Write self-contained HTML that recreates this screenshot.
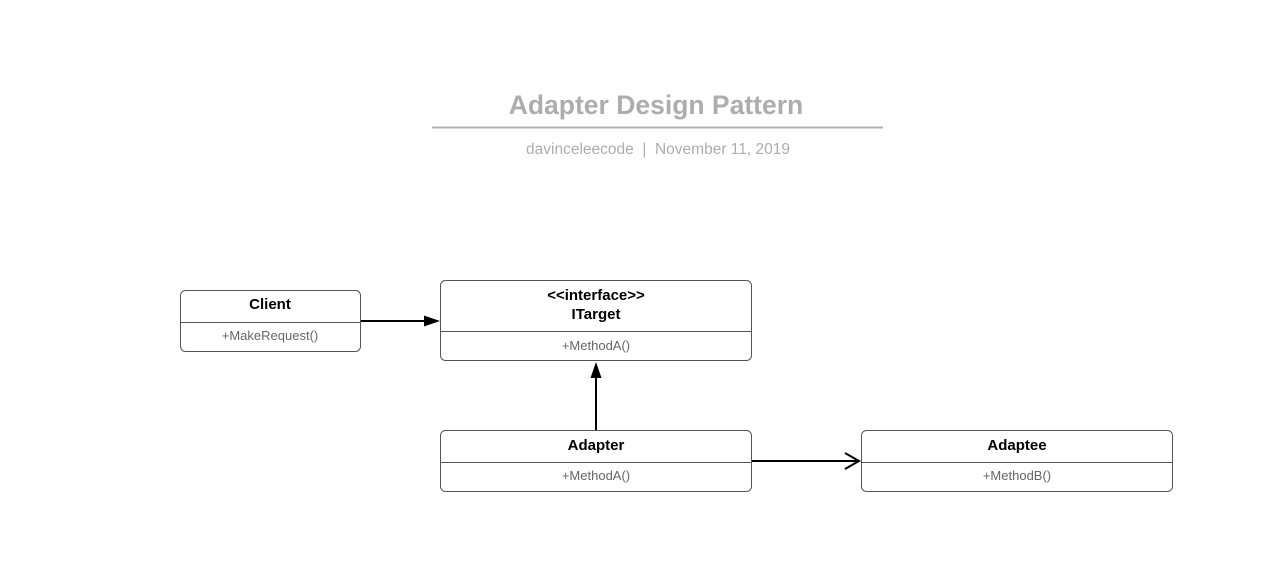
<!DOCTYPE html>
<html><head><meta charset="utf-8"><style>
html,body{margin:0;padding:0;background:#fff;width:1287px;height:585px;overflow:hidden}
svg{display:block;font-family:"Liberation Sans",Arial,sans-serif}
</style></head><body>
<svg width="1287" height="585" viewBox="0 0 1287 585" xmlns="http://www.w3.org/2000/svg">
<text x="656" y="114" text-anchor="middle" font-size="26.5" font-weight="bold" fill="#adadad">Adapter Design Pattern</text>
<line x1="432" y1="127.5" x2="883" y2="127.5" stroke="#b0b0b0" stroke-width="2"/>
<text x="658" y="154" text-anchor="middle" font-size="15.5" fill="#adadad" style="white-space:pre" xml:space="preserve">davinceleecode  |  November 11, 2019</text>

<g fill="#fff" stroke="#555" stroke-width="1">
<rect x="180.5" y="290.5" width="180" height="61" rx="5"/>
<rect x="440.5" y="280.5" width="311" height="80" rx="5"/>
<rect x="440.5" y="430.5" width="311" height="61" rx="5"/>
<rect x="861.5" y="430.5" width="311" height="61" rx="5"/>
</g>
<g stroke="#555" stroke-width="1">
<line x1="180" y1="322.5" x2="361" y2="322.5"/>
<line x1="440" y1="331.5" x2="752" y2="331.5"/>
<line x1="440" y1="462.5" x2="752" y2="462.5"/>
<line x1="861" y1="462.5" x2="1173" y2="462.5"/>
</g>
<g font-size="15" font-weight="bold" fill="#000" text-anchor="middle">
<text x="270" y="309">Client</text>
<text x="596" y="300">&lt;&lt;interface&gt;&gt;</text>
<text x="596" y="319">ITarget</text>
<text x="596" y="450">Adapter</text>
<text x="1017" y="450">Adaptee</text>
</g>
<g font-size="13" fill="#666" text-anchor="middle">
<text x="270" y="340">+MakeRequest()</text>
<text x="596" y="350">+MethodA()</text>
<text x="596" y="480">+MethodA()</text>
<text x="1017" y="480">+MethodB()</text>
</g>
<g stroke="#000" stroke-width="2" fill="none">
<line x1="361" y1="321" x2="426" y2="321"/>
<line x1="596" y1="430" x2="596" y2="376"/>
<line x1="752" y1="461" x2="858" y2="461"/>
<polyline points="845,453 859,461 845,469"/>
</g>
<polygon points="440,321 424,315.5 424,326.5" fill="#000"/>
<polygon points="596,362 590.5,378 601.5,378" fill="#000"/>
</svg>
</body></html>
